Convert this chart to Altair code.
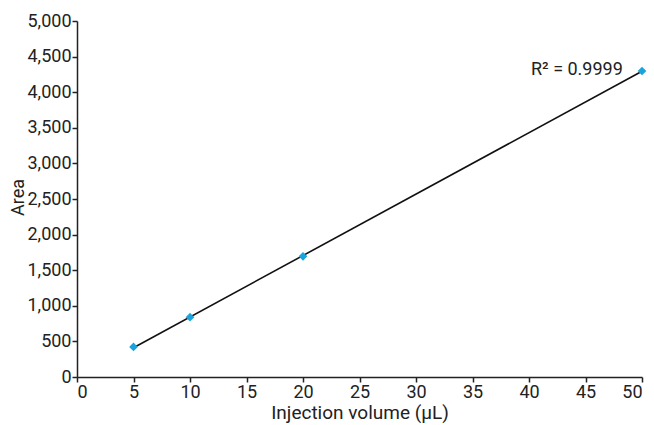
import altair as alt
import pandas as pd

# Data
volume = [5, 10, 20, 50]
area = [422, 840, 1695, 4298]
x_ticks = [0, 5, 10, 15, 20, 25, 30, 35, 40, 45, 50]
y_ticks = [0, 500, 1000, 1500, 2000, 2500, 3000, 3500, 4000, 4500, 5000]
r2_label = ["R² = 0.9999"]

df = pd.DataFrame({"volume": volume, "area": area})

FONT = "Roboto"
TXT = "#222222"

x_enc = alt.X(
    "volume:Q",
    scale=alt.Scale(domain=[0, 50], nice=False, zero=True),
    axis=alt.Axis(
        values=x_ticks,
        title="Injection volume (µL)",
        grid=False,
        tickSize=5,
        labelPadding=1,
        titlePadding=2,
        titleFontSize=19,
    ),
)
y_enc = alt.Y(
    "area:Q",
    scale=alt.Scale(domain=[0, 5000], nice=False),
    axis=alt.Axis(
        values=y_ticks,
        format=",d",
        title="Area",
        grid=False,
        tickSize=5,
        labelPadding=1,
        titleX=-59,
        titleY=176,
        titleAlign="center",
        titleBaseline="middle",
        titleAngle=270,
        titleFontSize=18,
    ),
)

base = alt.Chart(df)

fit = base.transform_regression(
    "volume", "area", extent=[5, 50]
).mark_line(color="#111111", strokeWidth=1.6).encode(x=x_enc, y=y_enc)

pts = base.mark_point(
    shape="diamond", filled=True, color="#1AA3DC", size=75, opacity=1
).encode(x=x_enc, y=y_enc)

ann = alt.Chart(pd.DataFrame({"t": r2_label})).mark_text(
    align="left", baseline="alphabetic", fontSize=18, font=FONT, color=TXT
).encode(text="t:N", x=alt.value(454), y=alt.value(54))

chart = (
    alt.layer(fit, pts, ann)
    .properties(
        width=565,
        height=356,
        padding={"left": 77, "top": 21, "right": 12, "bottom": 48},
        autosize=alt.AutoSizeParams(type="none"),
        background="white",
    )
    .configure_view(stroke=None)
    .configure_axis(
        labelFont=FONT,
        titleFont=FONT,
        labelFontSize=18,
        titleFontWeight="normal",
        labelColor=TXT,
        titleColor=TXT,
        domainColor="#222222",
        tickColor="#222222",
        domainWidth=1.5,
        tickWidth=1.5,
    )
)

chart.save("out.html", embed_options={"renderer": "svg", "actions": False})
